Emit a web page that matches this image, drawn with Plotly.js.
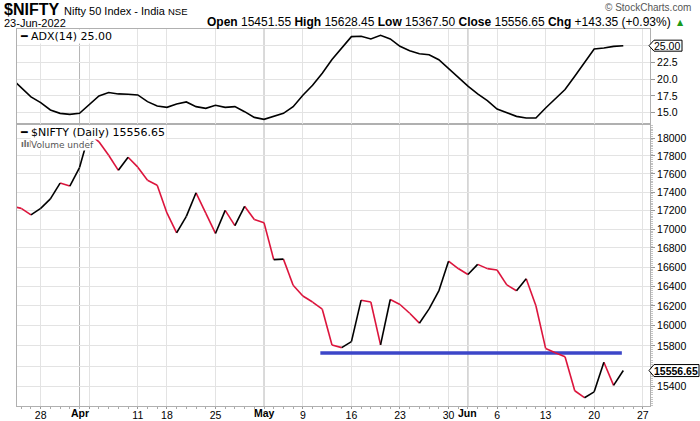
<!DOCTYPE html>
<html><head><meta charset="utf-8">
<script src="https://cdn.plot.ly/plotly-3.0.1.min.js"></script>
<style>html,body{margin:0;padding:0;background:#fff}#chart{width:700px;height:421px}</style>
</head><body><div id="chart"></div>
<script>
// ---- data (trading days, index 0 = 28 Mar 2022) ----
const tradingDays = ['23 Mar','24 Mar','25 Mar','28 Mar','29 Mar','30 Mar','31 Mar','1 Apr','4 Apr','5 Apr','6 Apr','7 Apr','8 Apr',
 '11 Apr','12 Apr','13 Apr','18 Apr','19 Apr','20 Apr','21 Apr','22 Apr','25 Apr','26 Apr','27 Apr','28 Apr','29 Apr',
 '2 May','4 May','5 May','6 May','9 May','10 May','11 May','12 May','13 May','16 May','17 May','18 May','19 May','20 May',
 '23 May','24 May','25 May','26 May','27 May','30 May','31 May','1 Jun','2 Jun','3 Jun','6 Jun','7 Jun','8 Jun','9 Jun','10 Jun',
 '13 Jun','14 Jun','15 Jun','16 Jun','17 Jun','20 Jun','21 Jun','22 Jun','23 Jun'];
const firstIndex = -3;
const closes = [17246,17223,17153,17222,17325,17498,17465,17670,18053,17957,17807,17639,17784,
 17674,17530,17475,17174,16959,17136,17392,17172,16954,17201,17038,17245,17103,
 17069,16678,16683,16411,16301,16240,16167,15808,15782,15842,16259,16240,15809,16266,
 16215,16126,16026,16170,16353,16661,16585,16523,16628,16584,16570,16416,16356,16479,16202,
 15774,15732,15692,15361,15294,15350,15638,15413,15557];
const adx = [20.1,18.7,17.35,16.5,15.4,14.9,14.75,14.9,16.2,17.5,18.0,17.8,17.75,
 17.65,16.65,16.0,15.8,16.3,16.6,15.9,15.65,16.1,15.8,15.9,15.15,14.3,
 14.0,14.5,14.9,15.9,17.6,19.1,20.9,22.95,24.6,26.35,26.4,26.0,26.55,26.0,
 24.9,24.25,23.8,23.65,22.9,21.55,20.2,18.95,17.8,16.8,15.55,14.95,14.45,14.2,14.2,
 15.7,17.1,18.45,20.45,22.4,24.5,24.65,24.9,25.0];
const tickPos  = [0,5,10,13,18,27,32,37,42,47,52,57,62];
const tickText = ['28','','11','18','25','9','16','23','30','6','13','20','27'];
const monthPos = [4,23,44];
const monthText = ['Apr','May','Jun'];
const adxTicks = [15,17.5,20,22.5,25];
const adxTickText = ['15.0','17.5','20.0','22.5',''];      // 25.0 sits under the value tag
const priceTicks = [15400,15600,15800,16000,16200,16400,16600,16800,17000,17200,17400,17600,17800,18000];
const priceTickText = ['15400','','15800','16000','16200','16400','16600','16800','17000','17200','17400','17600','17800','18000']; // 15600 under tag
const supportX = [28.8, 59.85];
const supportY = [15730, 15730];
const lastClose = 15556.65, lastAdx = 25.00;
const qOpen = '15451.55', qHigh = '15628.45', qLow = '15367.50', qClose = '15556.65', qChg = '+143.35', qPct = '+0.93%';

// ---- build traces ----
const xIdx = tradingDays.map((d, i) => i + firstIndex);
const upX = [], upY = [], dnX = [], dnY = [];
for (let i = 1; i < closes.length; i++) {
  const tx = closes[i] >= closes[i-1] ? [upX, upY] : [dnX, dnY];
  tx[0].push(xIdx[i-1], xIdx[i], null);
  tx[1].push(closes[i-1], closes[i], null);
}
const traces = [
  {x: xIdx, y: adx, xaxis: 'x2', yaxis: 'y2', type: 'scatter', mode: 'lines', line: {color: '#000', width: 1.6}, hoverinfo: 'skip'},
  {x: supportX, y: supportY, xaxis: 'x', yaxis: 'y', type: 'scatter', mode: 'lines', line: {color: '#3c46c8', width: 3.5}},
  {x: dnX, y: dnY, xaxis: 'x', yaxis: 'y', type: 'scatter', mode: 'lines', connectgaps: false, line: {color: '#dc143c', width: 1.6}},
  {x: upX, y: upY, xaxis: 'x', yaxis: 'y', type: 'scatter', mode: 'lines', connectgaps: false, line: {color: '#000', width: 1.6}}
];

// ---- layout ----
const W = 700, H = 421, ML = 17, MR = 50, MT = 29, MB = 15;
const PW = W - ML - MR, PH = H - MT - MB;
const px = x => (x - ML) / PW;
const py = y => (H - MB - y) / PH;
const F = 'Liberation Sans, Arial, sans-serif';
const FD = 'DejaVu Sans, Verdana, sans-serif';
const gridC = '#e3e3e3', frameC = '#b0b0b0';
const minorPrice = [];
for (let v = 15200; v <= 18200; v += 20) minorPrice.push(v);
const xCommon = {
  range: [-2.44, 62.75], tickmode: 'array', tickvals: tickPos, ticktext: tickText,
  showgrid: true, gridcolor: gridC, gridwidth: 1, zeroline: false,
  showline: true, mirror: true, linecolor: frameC, linewidth: 1
};
const split = py(124);
const layout = {
  width: W, height: H, margin: {l: ML, r: MR, t: MT, b: MB, pad: 0},
  paper_bgcolor: '#fff', plot_bgcolor: 'rgba(0,0,0,0)', showlegend: false,
  xaxis: Object.assign({}, xCommon, {anchor: 'y', ticks: 'outside', ticklen: 2, tickcolor: '#999',
    ticklabelstandoff: -3, tickfont: {family: F, size: 10.5, color: '#000'},
    minor: {tickmode: 'linear', tick0: 0, dtick: 1, ticks: 'outside', ticklen: 2, tickcolor: '#aaa', showgrid: false}}),
  xaxis2: Object.assign({}, xCommon, {anchor: 'y2', matches: 'x', showticklabels: false, ticks: ''}),
  yaxis: {domain: [0, split], type: 'log', range: [4.18226, 4.25909], side: 'right',
    tickmode: 'array', tickvals: priceTicks, ticktext: priceTickText,
    ticks: 'outside', ticklen: 4, tickcolor: '#999', tickfont: {family: F, size: 10.5, color: '#000'},
    minor: {tickmode: 'array', tickvals: minorPrice, ticks: 'outside', ticklen: 2, tickcolor: '#c4c4c4', showgrid: false},
    showgrid: true, gridcolor: gridC, zeroline: false, showline: true, mirror: true, linecolor: frameC},
  yaxis2: {domain: [split, 1], range: [13.31, 27.49], side: 'right', anchor: 'x2',
    tickmode: 'array', tickvals: adxTicks, ticktext: adxTickText,
    ticks: 'outside', ticklen: 4, tickcolor: '#999', tickfont: {family: F, size: 10.5, color: '#000'},
    showgrid: true, gridcolor: gridC, zeroline: false, showline: true, mirror: true, linecolor: frameC},
  shapes: [],
  annotations: []
};
monthPos.forEach((m, k) => {
  layout.shapes.push({type: 'line', layer: 'below', xref: 'x', yref: 'paper', x0: m, x1: m, y0: 0, y1: 1,
    line: {color: '#b5b5b5', width: 1}});
  layout.annotations.push({xref: 'x', yref: 'paper', x: m, y: py(413), text: '<b>' + monthText[k] + '</b>', showarrow: false,
    xanchor: 'center', yanchor: 'middle', font: {family: F, size: 10.5, color: '#000'}});
});
// value tags
layout.shapes.push({type: 'path', layer: 'above', xref: 'paper', yref: 'y2', xsizemode: 'pixel', ysizemode: 'pixel',
  xanchor: 1, yanchor: lastAdx, path: 'M -1 0 L 4 -5.5 L 32 -5.5 L 32 5.5 L 4 5.5 Z', fillcolor: '#fff', line: {color: '#000', width: 1}});
layout.shapes.push({type: 'path', layer: 'above', xref: 'paper', yref: 'y', xsizemode: 'pixel', ysizemode: 'pixel',
  xanchor: 1, yanchor: lastClose, path: 'M -1 0 L 4 -6 L 49 -6 L 49 6 L 4 6 Z', fillcolor: '#fff', line: {color: '#000', width: 1}});
const A = (x, y, text, opt) => Object.assign({xref: 'paper', yref: 'paper', x: px(x), y: py(y), text: text, showarrow: false,
  xanchor: 'left', yanchor: 'middle', font: {family: F, size: 12, color: '#000'}}, opt || {});
layout.annotations.push(
  {xref: 'paper', yref: 'y2', x: px(667), y: lastAdx, text: lastAdx.toFixed(2), showarrow: false, xanchor: 'center', yanchor: 'middle',
    font: {family: F, size: 10.5, color: '#000'}},
  {xref: 'paper', yref: 'y', x: px(676), y: Math.log10(lastClose), text: '<b>' + lastClose.toFixed(2) + '</b>', showarrow: false,
    xanchor: 'center', yanchor: 'middle', font: {family: F, size: 10.5, color: '#000'}},
  A(2, 9.5, '<b>$NIFTY</b>', {font: {family: F, size: 16, color: '#000'}}),
  A(62, 11, 'Nifty 50 Index - India', {font: {family: F, size: 11, color: '#000'}}),
  A(166, 11, 'NSE', {font: {family: F, size: 9.5, color: '#000'}}),
  A(693, 8, '© StockCharts.com', {xanchor: 'right', font: {family: F, size: 10, color: '#555'}}),
  A(2, 22.5, '23-Jun-2022', {font: {family: F, size: 11, color: '#000'}}),
  A(673, 22, '<b>Open</b> ' + qOpen + ' <b>High</b> ' + qHigh + ' <b>Low</b> ' + qLow + ' <b>Close</b> ' + qClose +
    ' <b>Chg</b> ' + qChg + ' (' + qPct + ')', {xanchor: 'right', font: {family: F, size: 12, color: '#000'}}),
  A(675, 22, '▲', {font: {family: FD, size: 8, color: '#1a9a1a'}}),
  A(18, 36, '━', {font: {family: FD, size: 11, color: '#000'}}),
  A(30, 36, 'ADX(14) ' + lastAdx.toFixed(2), {font: {family: FD, size: 11, color: '#000'}, bgcolor: '#fff', borderpad: 0}),
  A(18, 132.5, '━', {font: {family: FD, size: 11, color: '#000'}}),
  A(30, 132.5, '$NIFTY (Daily) ' + lastClose.toFixed(2), {font: {family: FD, size: 11, color: '#000'}, bgcolor: '#fff', borderpad: 0}),
  A(18.5, 144, '<b>ılıl</b>', {font: {family: FD, size: 8, color: '#666'}}),
  A(29.5, 144.5, 'Volume undef', {font: {family: FD, size: 9, color: '#555'}, bgcolor: '#fff', borderpad: 0})
);
Plotly.newPlot('chart', traces, layout, {staticPlot: true, displayModeBar: false});
</script></body></html>
